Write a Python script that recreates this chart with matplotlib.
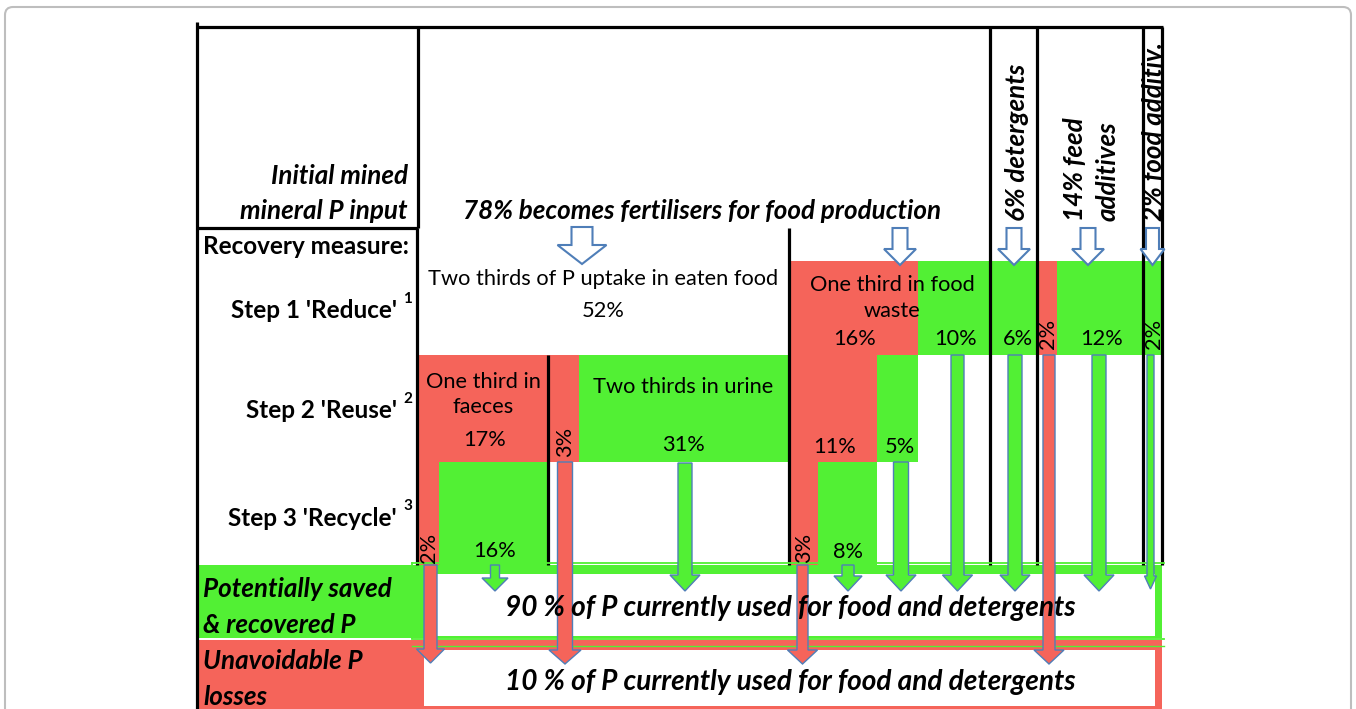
import matplotlib
matplotlib.use('Agg')
import matplotlib.pyplot as plt
from matplotlib.patches import Rectangle, Polygon, FancyBboxPatch

plt.rcParams['font.family'] = ['Lato', 'DejaVu Sans']

RED = '#F5645A'
GREEN = '#52F034'
BLUE = '#4F7EB8'

# --- values (% of mined mineral P) ---
input_labels = ['78% becomes fertilisers for food production', '6% detergents',
                '14% feed\nadditives', '2% food additiv.']
row_labels = ["Step 1 'Reduce'", "Step 2 'Reuse'", "Step 3 'Recycle'"]
row_notes = ['1', '2', '3']
eaten_text = ['Two thirds of P uptake in eaten food', 52]
faeces_text = ['One third in\nfaeces', 17]
urine_text = ['Two thirds in urine', 31]
waste_text = ['One third in food\nwaste', 16]
# saved (green) and lost (red) shares per step
reduce_saved = [10, 6, 12, 2]      # food waste, detergents, feed, food additives
reduce_lost = [2]                  # feed additives
reuse_saved = [5]                  # food waste
reuse_lost = [3, 11]               # urine, food waste
recycle_saved = [16, 8]            # faeces, food waste
recycle_lost = [2, 3]              # faeces, food waste
totals = [90, 10]

fig = plt.figure(figsize=(13.56, 7.09), dpi=100)
ax = fig.add_axes([0, 0, 1, 1])
ax.set_xlim(0, 1356)
ax.set_ylim(709, 0)
ax.axis('off')

# page frame
ax.add_patch(FancyBboxPatch((5, 7), 1346, 720, boxstyle='round,pad=0,rounding_size=8',
                            fc='white', ec='#BEBEBE', lw=1.5))


def block(x0, x1, y0, y1, c):
    ax.add_patch(Rectangle((x0, y0), x1 - x0, y1 - y0, fc=c, ec='none'))


def arrow(xc, y0, y1, shaft, head, hlen, fc, lw=1.0):
    s, h = shaft / 2., head / 2.
    pts = [(xc - s, y0), (xc + s, y0), (xc + s, y1 - hlen), (xc + h, y1 - hlen),
           (xc, y1), (xc - h, y1 - hlen), (xc - s, y1 - hlen)]
    ax.add_patch(Polygon(pts, closed=True, fc=fc, ec=BLUE, lw=lw, zorder=5))


# coloured blocks: step 1 (y 261-355), step 2 (355-462), step 3 (462-565)
block(789, 918, 261, 355, RED)
block(918, 990, 261, 355, GREEN)
block(990, 1037, 261, 355, GREEN)
block(1037, 1057, 261, 355, RED)
block(1057, 1142, 261, 355, GREEN)
block(1142, 1162, 261, 355, GREEN)
block(418, 548, 355, 462, RED)
block(548, 579, 355, 462, RED)
block(579, 789, 355, 462, GREEN)
block(789, 877, 355, 462, RED)
block(877, 918, 355, 462, GREEN)
block(418, 439, 462, 565, RED)
block(439, 548, 462, 565, GREEN)
block(789, 818, 462, 565, RED)
block(818, 877, 462, 565, GREEN)

# table lines
lines = [((197, 1163), (27, 27)), ((197, 197), (22, 709)), ((418, 418), (27, 228)),
         ((197, 418), (228, 228)), ((417, 417), (228, 565)), ((548, 548), (355, 565)),
         ((789, 789), (228, 565)), ((990, 990), (27, 565)), ((1036.5, 1036.5), (27, 565)),
         ((1142.5, 1142.5), (27, 565)), ((1162, 1162), (27, 565))]
for xs, ys in lines:
    ax.plot(xs, ys, color='black', lw=2.3, solid_capstyle='butt', zorder=3)

# bottom result rows
block(199, 1162, 565, 638, GREEN)
block(426, 1155, 574, 636, 'white')
block(199, 1162, 640, 709, RED)
block(424, 1155, 650, 706, 'white')
ax.plot([412, 1164], [562.5, 562.5], color=GREEN, lw=1.3, zorder=4)
ax.plot([412, 412], [562.5, 638], color=GREEN, lw=1.3, zorder=4)
ax.plot([412, 1164], [638.5, 638.5], color=GREEN, lw=1.3, zorder=4)
ax.plot([412, 1164], [646, 646], color=GREEN, lw=1.0, zorder=4)

# input arrows (hollow)
arrow(582, 227, 264, 21, 49, 19, 'white', lw=1.5)
for xc in [900, 1014, 1088]:
    arrow(xc, 228, 265, 15, 32, 16, 'white', lw=1.5)
arrow(1152.5, 228, 265, 13, 24, 16, 'white', lw=1.5)

# flows to saved (green) and lost (red)
arrow(495, 565, 591, 9, 26, 13, GREEN)
arrow(685, 463, 591, 14, 30, 16, GREEN)
arrow(848, 565, 591, 12, 28, 15, GREEN)
arrow(901, 462, 591, 15, 30, 16, GREEN)
arrow(957.5, 355, 591, 13, 30, 16, GREEN)
arrow(1015, 355, 591, 14, 30, 16, GREEN)
arrow(1099, 355, 591, 14, 30, 16, GREEN)
arrow(1150.5, 355, 589, 7, 12, 13, GREEN)
arrow(430.5, 565, 663, 13, 28, 14, RED)
arrow(565, 462, 664, 15, 32, 14, RED)
arrow(802.5, 565, 664, 11, 30, 14, RED)
arrow(1049, 355, 664, 12, 30, 14, RED)

# --- text ---
BI = dict(fontweight='bold', fontstyle='italic', zorder=6)
REG = dict(fontsize=15.7, zorder=6, ha='center', va='center')
HB = 18.7   # bold italic headings
SB = 17.5   # bold row labels

ax.text(408, 176, 'Initial mined', fontsize=HB, ha='right', va='center', **BI)
ax.text(408, 211, 'mineral P input', fontsize=HB, ha='right', va='center', **BI)
ax.text(702, 211, input_labels[0], fontsize=HB, ha='center', va='center', **BI)
ax.text(1017, 221, input_labels[1], fontsize=HB, ha='center', va='bottom',
        rotation=90, **BI)
ax.text(1091.5, 221, input_labels[2], fontsize=HB, ha='center', va='bottom',
        rotation=90, multialignment='left', linespacing=1.4, **BI)
ax.text(1154, 221, input_labels[3], fontsize=HB, ha='center', va='bottom',
        rotation=90, **BI)

ax.text(203, 246, 'Recovery measure:', fontsize=SB, fontweight='bold',
        ha='left', va='center', zorder=6)
for lab, note, yc in zip(row_labels, row_notes, [311, 411, 518]):
    ax.text(397, yc, lab, fontsize=SB, fontweight='bold', ha='right', va='center', zorder=6)
    ax.text(403, yc - 12, note, fontsize=11, fontweight='bold', ha='left', va='center', zorder=6)

ax.text(603, 279, eaten_text[0], **REG)
ax.text(603, 311, '%d%%' % eaten_text[1], **REG)
ax.text(483, 394.5, faeces_text[0], linespacing=1.35, **REG)
ax.text(485, 440, '%d%%' % faeces_text[1], **REG)
ax.text(683, 387, urine_text[0], **REG)
ax.text(683, 445, '%d%%' % urine_text[1], **REG)
ax.text(892, 298, waste_text[0], linespacing=1.35, **REG)
ax.text(855, 339, '%d%%' % waste_text[1], **REG)

for xc, v in zip([955, 1018, 1102], reduce_saved[:3]):
    ax.text(xc, 339, '%d%%' % v, **REG)
ax.text(1154, 334, '%d%%' % reduce_saved[3], rotation=90, **REG)
ax.text(1048, 334, '%d%%' % reduce_lost[0], rotation=90, **REG)
ax.text(900, 447, '%d%%' % reuse_saved[0], **REG)
ax.text(565, 442, '%d%%' % reuse_lost[0], rotation=90, **REG)
ax.text(835, 447, '%d%%' % reuse_lost[1], **REG)
ax.text(495, 551, '%d%%' % recycle_saved[0], **REG)
ax.text(848, 552, '%d%%' % recycle_saved[1], **REG)
ax.text(429, 548, '%d%%' % recycle_lost[0], rotation=90, **REG)
ax.text(804, 548, '%d%%' % recycle_lost[1], rotation=90, **REG)

ax.text(203, 589, 'Potentially saved', fontsize=HB, ha='left', va='center', **BI)
ax.text(203, 625, '& recovered P', fontsize=HB, ha='left', va='center', **BI)
ax.text(203, 661, 'Unavoidable P', fontsize=HB, ha='left', va='center', **BI)
ax.text(203, 697, 'losses', fontsize=HB, ha='left', va='center', **BI)
ax.text(790, 608, '%d %% of P currently used for food and detergents' % totals[0],
        fontsize=20.2, ha='center', va='center', **BI)
ax.text(790, 682, '%d %% of P currently used for food and detergents' % totals[1],
        fontsize=20.2, ha='center', va='center', **BI)

fig.savefig('out.png', dpi=100)
